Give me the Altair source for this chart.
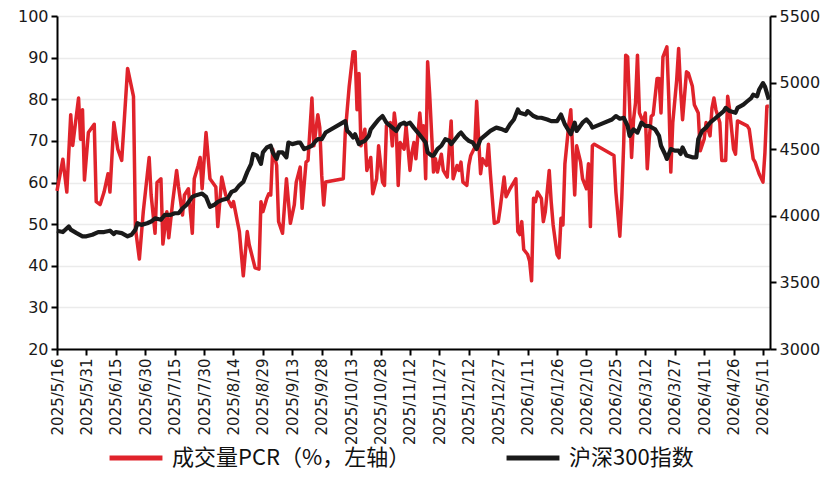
import altair as alt
import pandas as pd

START = "2025-05-16"
END = "2026-05-14T14:00:00"

tick_labels = ["2025/5/16", "2025/5/31", "2025/6/15", "2025/6/30", "2025/7/15", "2025/7/30",
               "2025/8/14", "2025/8/29", "2025/9/13", "2025/9/28", "2025/10/13", "2025/10/28",
               "2025/11/12", "2025/11/27", "2025/12/12", "2025/12/27", "2026/1/11", "2026/1/26",
               "2026/2/10", "2026/2/25", "2026/3/12", "2026/3/27", "2026/4/11", "2026/4/26",
               "2026/5/11"]

# days after 2025-05-16
red_day = [0, 3, 5, 7, 8, 11, 12, 13, 14, 16, 19, 20, 22, 24, 26, 27, 29, 31, 33, 36, 39, 40, 42, 44,
           46, 47, 48, 50, 51, 53, 54, 56, 57, 59, 61, 62, 64, 65, 67, 69, 70, 72, 73, 74, 76, 78, 81,
           82, 84, 86, 89, 90, 93, 95, 97, 98, 101, 103, 104, 105, 107, 108, 109, 110, 112, 113, 115,
           117, 119, 121, 122, 124, 125, 127, 128, 130, 131, 133, 134, 135, 136, 137, 146, 147, 149,
           151, 152, 153, 154, 155, 157, 158, 160, 161, 163, 164, 166, 167, 168, 170, 171, 172, 173,
           174, 175, 177, 178, 180, 181, 182, 183, 185, 186, 187, 188, 189, 190, 192, 193, 194, 196,
           197, 198, 199, 200, 201, 202, 204, 205, 206, 207, 209, 210, 211, 213, 214, 215, 216, 217,
           219, 220, 221, 223, 225, 226, 228, 229, 231, 233, 234, 235, 236, 237, 238, 240, 241, 242,
           243, 244, 245, 247, 248, 249, 251, 252, 253, 255, 256, 257, 258, 259, 261, 262, 263, 264,
           265, 267, 268, 270, 271, 272, 273, 274, 284, 285, 287, 288, 289, 290, 291, 293, 294, 295,
           296, 297, 299, 300, 301, 302, 303, 304, 306, 307, 308, 309, 311, 312, 313, 314, 316, 317,
           318, 319, 321, 322, 324, 325, 327, 328, 330, 331, 333, 334, 335, 336, 338, 339, 341, 342,
           343, 345, 346, 347, 352, 353, 355, 356, 358, 360, 361, 362, 363]
red_pcr = [58, 65.6, 57.7, 76.3, 68.9, 80.3, 70.4, 77.5, 60.6, 72, 74, 55.4, 54.7, 57.7, 62.1, 57.7,
           74.4, 68, 65.3, 87.4, 80.7, 49, 41.6, 53, 61.7, 66, 57, 47.8, 60, 60.9, 45.2, 53, 46.7,
           55.4, 62.9, 58.9, 52.2, 57, 58.5, 47.8, 60.9, 64.1, 66, 58.5, 72, 60.9, 58.9, 49.4, 61.3,
           57, 54.2, 55.4, 48.2, 37.6, 48.2, 45.1, 39.5, 39.2, 55.4, 53, 56.2, 57.3, 57, 68, 64.1,
           50.6, 47.8, 60.9, 50.2, 54.6, 60.1, 63.7, 53.8, 64.9, 65.3, 80.3, 68.8, 76.3, 73.2, 61.7,
           54.6, 60.1, 60.9, 72, 83.1, 91.4, 91.4, 77.5, 86.2, 68.8, 72.8, 62.9, 66, 57.3, 60.9, 68.8,
           60.1, 59.3, 73.6, 74.4, 68.8, 76.7, 72.8, 59.3, 69.6, 68, 73.6, 62.9, 67.2, 69.6, 65.7,
           76.7, 71.2, 73.6, 60.9, 89, 81.5, 62.5, 65.7, 62.5, 66.8, 62.9, 62.1, 61.3, 68, 74.8, 60.9,
           64.1, 62.9, 64.9, 60.1, 59.3, 64.1, 66.5, 68.4, 79.5, 70.4, 62.1, 65.7, 64.1, 69.2, 62.1,
           50.2, 50.6, 53.8, 61.3, 56.6, 58.5, 60.1, 60.9, 48.2, 47.5, 50.6, 43.9, 42.7, 41.1, 36.4,
           56.2, 55.4, 57.7, 56.2, 50.6, 53, 62.9, 55.4, 49.8, 42.7, 41.9, 51.4, 49.8, 64.5, 74, 77.5,
           67.2, 57, 68.8, 64.9, 60.9, 58.5, 64.5, 49.4, 68.8, 69.2, 66.5, 57.7, 47.1, 56.2, 69.6,
           90.6, 90.2, 66, 75.1, 79.1, 90.6, 76.7, 74.4, 76.7, 63.3, 70.4, 75.9, 76.3, 85, 85, 76.7,
           90.2, 92.6, 79.9, 62.5, 74.4, 84.6, 92.2, 82.3, 75.1, 86.6, 86.2, 83.1, 78.7, 76.7, 67.6,
           70.4, 74.4, 71.2, 77.9, 80.3, 77.5, 74.4, 65.3, 65.3, 80.7, 77.5, 68, 66.8, 74.8, 73.6,
           72.8, 65.7, 64.9, 62.1, 60.1, 67.2, 78.3, 78.3]

hs_day = [0, 3, 6, 7, 10, 13, 15, 18, 21, 24, 27, 29, 30, 33, 36, 38, 40, 41, 43, 46, 48, 50, 53, 55,
          58, 60, 62, 64, 66, 69, 71, 74, 76, 78, 80, 82, 84, 87, 89, 91, 93, 95, 97, 99, 100, 102,
          104, 105, 107, 109, 110, 112, 113, 115, 117, 118, 120, 123, 124, 126, 128, 130, 132, 133,
          135, 137, 147, 148, 149, 151, 152, 154, 155, 157, 159, 160, 162, 164, 166, 168, 169, 171,
          173, 175, 177, 178, 180, 182, 184, 186, 188, 189, 191, 192, 194, 196, 198, 200, 201, 203,
          205, 206, 208, 210, 212, 214, 216, 218, 221, 224, 227, 229, 231, 233, 235, 236, 239, 240,
          243, 245, 247, 250, 252, 255, 257, 259, 262, 264, 265, 268, 270, 272, 273, 277, 283, 285,
          287, 289, 291, 292, 294, 296, 298, 300, 302, 305, 307, 308, 310, 311, 313, 315, 317, 318,
          319, 321, 324, 326, 327, 329, 331, 333, 335, 337, 340, 341, 343, 346, 347, 350, 352, 354,
          355, 357, 358, 360, 361, 363]
hs_close = [3888, 3878, 3920, 3896, 3870, 3846, 3846, 3858, 3878, 3878, 3888, 3863, 3878, 3870, 3846,
            3858, 3896, 3944, 3932, 3944, 3957, 3981, 3970, 4007, 4007, 4019, 4019, 4056, 4081, 4142,
            4155, 4167, 4142, 4068, 4081, 4105, 4118, 4130, 4180, 4192, 4229, 4254, 4328, 4390, 4464,
            4452, 4390, 4476, 4513, 4526, 4476, 4427, 4476, 4476, 4439, 4550, 4538, 4550, 4550, 4501,
            4513, 4526, 4563, 4575, 4575, 4625, 4711, 4637, 4625, 4588, 4612, 4538, 4550, 4563, 4600,
            4649, 4686, 4723, 4749, 4699, 4686, 4662, 4637, 4686, 4699, 4686, 4699, 4660, 4625, 4588,
            4550, 4476, 4452, 4452, 4501, 4526, 4575, 4563, 4538, 4575, 4612, 4625, 4588, 4563, 4550,
            4501, 4575, 4600, 4637, 4662, 4649, 4637, 4686, 4723, 4798, 4773, 4760, 4786, 4749, 4736,
            4736, 4723, 4711, 4711, 4760, 4686, 4612, 4699, 4637, 4699, 4723, 4690, 4662, 4686, 4723,
            4749, 4729, 4736, 4674, 4600, 4649, 4625, 4699, 4674, 4674, 4649, 4600, 4526, 4464, 4427,
            4501, 4489, 4489, 4464, 4513, 4452, 4439, 4439, 4575, 4637, 4662, 4699, 4723, 4749, 4786,
            4810, 4786, 4773, 4810, 4835, 4860, 4884, 4909, 4897, 4946, 4996, 4971, 4872]

SER_RED = "成交量PCR（%，左轴）"
SER_BLK = "沪深300指数"
RED = "#E0232B"
BLK = "#1A1A1A"

start = pd.Timestamp(START)


def to_dates(days):
    return [(start + pd.Timedelta(days=d)).strftime("%Y/%m/%d") for d in days]


red_df = pd.DataFrame({"date": to_dates(red_day), "value": red_pcr, "series": SER_RED})
blk_df = pd.DataFrame({"date": to_dates(hs_day), "value": hs_close, "series": SER_BLK})


def dt(s):
    parts = s.replace("T", "-").replace(":", "-").replace("/", "-").split("-")
    y, m, d = int(parts[0]), int(parts[1]), int(parts[2])
    h = int(parts[3]) if len(parts) > 3 else 0
    return alt.DateTime(year=y, month=m, date=d, hours=h)


tick_vals = [dt(s) for s in tick_labels]

x_axis = alt.Axis(values=tick_vals, format="%Y/%-m/%-d", labelAngle=270, title=None,
                  grid=False, domainColor="black", domainWidth=2, tickColor="black",
                  tickWidth=2, tickSize=6, labelFont="DejaVu Sans", labelFontSize=15,
                  labelColor="#1a1a1a", labelPadding=3, labelOverlap=False)
x_enc = alt.X("date:T", scale=alt.Scale(domain=[dt(START), dt(END)], nice=False), axis=x_axis)

legend = alt.Legend(orient="none", legendX=50, legendY=413, direction="horizontal", title=None,
                    symbolType="stroke", symbolStrokeWidth=5, symbolSize=2800,
                    labelFont="Noto Sans CJK SC", labelFontSize=22, labelColor="#111111",
                    labelLimit=500, columnPadding=85, labelOffset=7)
color_enc = alt.Color("series:N", scale=alt.Scale(domain=[SER_RED, SER_BLK], range=[RED, BLK]),
                      legend=legend)

common_y = dict(domainColor="black", domainWidth=2, tickColor="black", tickWidth=2, tickSize=6,
                labelFont="DejaVu Sans", labelFontSize=16, labelColor="#1a1a1a", labelPadding=3,
                title=None, format="d")

red_line = alt.Chart(red_df).mark_line(strokeWidth=3.5, strokeJoin="round").encode(
    x=x_enc,
    y=alt.Y("value:Q", scale=alt.Scale(domain=[20, 100], nice=False, zero=False),
            axis=alt.Axis(orient="left", values=list(range(20, 101, 10)), grid=True,
                          gridColor="#EBEBEB", gridWidth=1.5, **common_y)),
    color=color_enc,
)

blk_line = alt.Chart(blk_df).mark_line(strokeWidth=4.2, strokeJoin="round").encode(
    x=x_enc,
    y=alt.Y("value:Q", scale=alt.Scale(domain=[3000, 5500], nice=False, zero=False),
            axis=alt.Axis(orient="right", values=list(range(3000, 5501, 500)), grid=False,
                          **common_y)),
    color=color_enc,
)

chart = alt.layer(red_line, blk_line).resolve_scale(y="independent").properties(
    width=713, height=333,
    autosize=alt.AutoSizeParams(type="none"),
    padding={"left": 49, "top": 8, "right": 54, "bottom": 125},
).configure_view(strokeWidth=0).configure(background="white")

chart.save("out.html", embed_options={"renderer": "svg", "actions": False})
